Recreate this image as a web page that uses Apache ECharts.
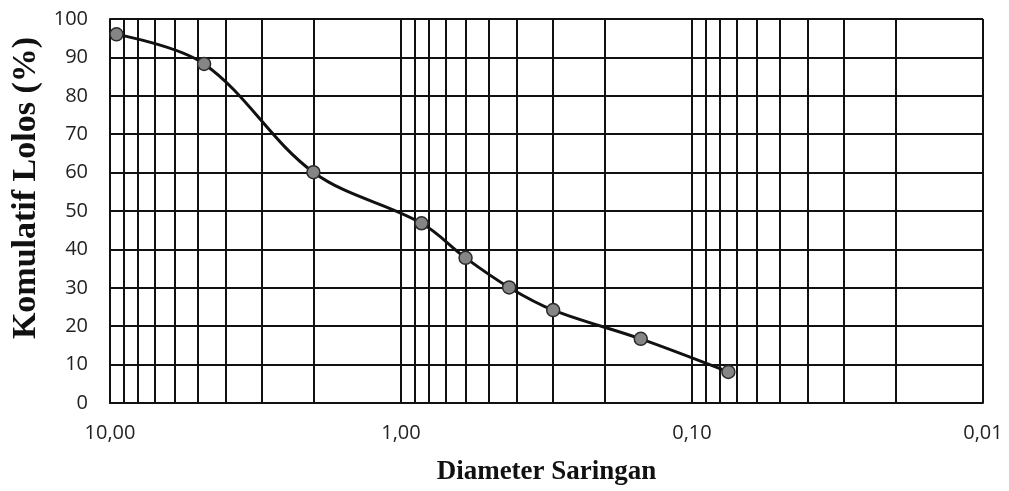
<!DOCTYPE html>
<html>
<head>
    <meta charset="utf-8">
    <script src="https://cdn.jsdelivr.net/npm/echarts@6/dist/echarts.min.js"></script>
    <title>Gradasi Agregat</title>
    <style>
        html, body { margin: 0; padding: 0; background: #fff; }
        #main { width: 1009px; height: 491px; }
    </style>
</head>
<body>
    <div id="main"></div>
    <script type="text/javascript">
        // ukuran saringan (mm) dan persen lolos kumulatif
        var diameter = [9.5, 4.75, 2.0, 0.85, 0.6, 0.425, 0.3, 0.15, 0.075];
        var lolos = [96.0, 88.3, 60.1, 46.8, 37.8, 30.1, 24.2, 16.7, 8.1];

        // garis bantu minor tiap dekade (skala log)
        var minorGrid = [9, 8, 7, 6, 5, 4, 3, 2,
                         0.9, 0.8, 0.7, 0.6, 0.5, 0.4, 0.3, 0.2,
                         0.09, 0.08, 0.07, 0.06, 0.05, 0.04, 0.03, 0.02];

        var yTicks = { min: 0, max: 100, interval: 10 };
        var xRange = { min: 0.01, max: 10 };

        var myChart = echarts.init(document.getElementById('main'));

        var points = diameter.map(function (d, i) {
            return [d, lolos[i]];
        });

        var option = {
            animation: false,
            backgroundColor: '#fff',
            grid: { left: 110, right: 26, top: 19, bottom: 88 },
            xAxis: {
                type: 'log',
                logBase: 10,
                min: xRange.min,
                max: xRange.max,
                inverse: true,
                name: 'Diameter Saringan',
                nameLocation: 'middle',
                nameGap: 56,
                nameTextStyle: {
                    fontFamily: 'Liberation Serif',
                    fontWeight: 'bold',
                    fontSize: 27,
                    color: '#111'
                },
                axisLine: { show: true, lineStyle: { color: '#111', width: 2 } },
                axisTick: { show: false },
                axisLabel: {
                    margin: 20,
                    fontFamily: 'Open Sans',
                    fontSize: 20,
                    color: '#222',
                    formatter: function (v) {
                        return v.toFixed(2).replace('.', ',');
                    }
                },
                splitLine: { show: true, lineStyle: { color: '#111', width: 2 } },
                minorSplitLine: { show: false }
            },
            yAxis: {
                type: 'value',
                min: yTicks.min,
                max: yTicks.max,
                interval: yTicks.interval,
                name: 'Komulatif Lolos (%)',
                nameLocation: 'middle',
                nameGap: 66,
                nameTextStyle: {
                    fontFamily: 'Liberation Serif',
                    fontWeight: 'bold',
                    fontSize: 34,
                    color: '#111',
                    padding: [0, 0, 0, 46]
                },
                axisLine: { show: true, lineStyle: { color: '#111', width: 2 } },
                axisTick: { show: false },
                axisLabel: {
                    margin: 22,
                    fontFamily: 'Open Sans',
                    fontSize: 20,
                    color: '#222'
                },
                splitLine: { show: true, lineStyle: { color: '#111', width: 2 } }
            },
            series: [
                {
                    // garis grid minor, di bawah kurva
                    type: 'line',
                    z: 1,
                    data: [],
                    silent: true,
                    markLine: {
                        silent: true,
                        symbol: ['none', 'none'],
                        label: { show: false },
                        lineStyle: { color: '#111', width: 2, type: 'solid' },
                        emphasis: { disabled: true },
                        data: minorGrid.map(function (v) {
                            return { xAxis: v };
                        })
                    }
                },
                {
                    name: 'Gradasi',
                    type: 'line',
                    z: 5,
                    smooth: 0.35,
                    data: points,
                    symbol: 'circle',
                    symbolSize: 13,
                    lineStyle: { color: '#111', width: 3 },
                    itemStyle: { color: '#858585', borderColor: '#2a2a2a', borderWidth: 1.5 }
                }
            ]
        };

        myChart.setOption(option);
    </script>
</body>
</html>
